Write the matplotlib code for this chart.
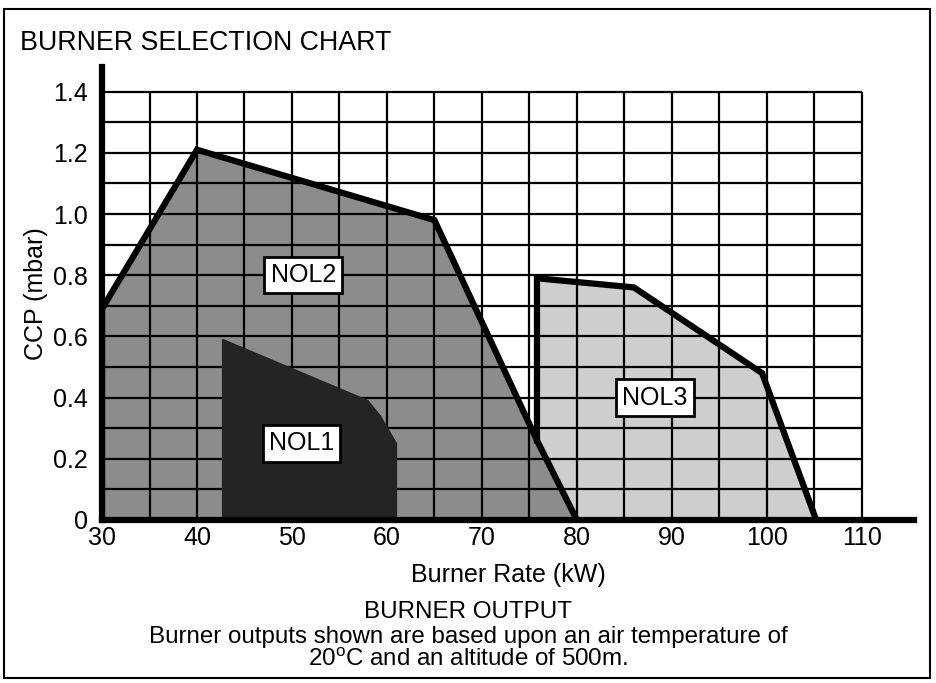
import matplotlib
matplotlib.use("Agg")
import matplotlib.pyplot as plt
from matplotlib.patches import Polygon, Rectangle

plt.rcParams['font.family'] = ['Liberation Sans', 'DejaVu Sans']
plt.rcParams['mathtext.fontset'] = 'custom'
plt.rcParams['mathtext.rm'] = 'Liberation Sans'

# Data (Burner Rate kW, CCP mbar)
nol2_x = [30, 30, 40, 65, 75.8, 80]
nol2_y = [0, 0.69, 1.21, 0.98, 0.26, 0]
nol1_x = [42.7, 42.7, 58, 59.3, 61, 61]
nol1_y = [0, 0.59, 0.39, 0.34, 0.25, 0]
nol3_x = [80, 75.8, 75.8, 86, 99.5, 105.2]
nol3_y = [0, 0.26, 0.79, 0.76, 0.48, 0]
labels = ["NOL1", "NOL2", "NOL3"]
label_pos = [(51.0, 0.25), (51.2, 0.80), (88.2, 0.40)]
x_ticks = [30, 40, 50, 60, 70, 80, 90, 100, 110]
y_ticks = [0, 0.2, 0.4, 0.6, 0.8, 1.0, 1.2, 1.4]
y_ticklabels = ["0", "0.2", "0.4", "0.6", "0.8", "1.0", "1.2", "1.4"]
grid_x = list(range(30, 111, 5))
grid_y = [round(0.1 * i, 1) for i in range(1, 15)]

fig = plt.figure(figsize=(9.36, 6.83), dpi=100)
ax = fig.add_axes([0.109, 0.2387, 0.8675, 0.663])
ax.set_xlim(30, 115.5)
ax.set_ylim(0, 1.48)

# fills
ax.add_patch(Polygon(list(zip(nol2_x, nol2_y)), closed=True, facecolor='#8c8c8c', edgecolor='none', zorder=1))
ax.add_patch(Polygon(list(zip(nol3_x, nol3_y)), closed=True, facecolor='#cecece', edgecolor='none', zorder=1))

# grid
ax.vlines(grid_x, 0, 1.4, colors='black', linewidth=1.6, zorder=2)
ax.hlines(grid_y, 30, 110, colors='black', linewidth=1.6, zorder=2)

# NOL1 dark region on top of grid
ax.add_patch(Polygon(list(zip(nol1_x, nol1_y)), closed=True, facecolor='#242424', edgecolor='#242424', linewidth=1, zorder=3))

# outlines
ax.plot(nol2_x, nol2_y, color='black', linewidth=4.5, solid_joinstyle='miter', zorder=4)
ax.plot(nol3_x[1:], nol3_y[1:], color='black', linewidth=4.5, solid_joinstyle='miter', zorder=4)

for lab, (lx, ly) in zip(labels, label_pos):
    ax.text(lx, ly, lab, fontsize=18, ha='center', va='center', zorder=6,
            bbox=dict(boxstyle='square,pad=0.25', facecolor='white', edgecolor='black', linewidth=2))

for s in ['top', 'right']:
    ax.spines[s].set_visible(False)
ax.spines['left'].set_linewidth(4.5)
ax.spines['bottom'].set_linewidth(4.5)
ax.spines['left'].set_zorder(5)
ax.spines['bottom'].set_zorder(5)

ax.set_xticks(x_ticks)
ax.set_xticklabels([str(v) for v in x_ticks])
ax.set_yticks(y_ticks)
ax.set_yticklabels(y_ticklabels)
ax.tick_params(axis='x', length=0, labelsize=18, pad=4)
ax.tick_params(axis='y', length=0, labelsize=18, pad=10)
ax.set_xlabel("Burner Rate (kW)", fontsize=18, labelpad=10)
ax.set_ylabel("CCP (mbar)", fontsize=18, labelpad=4)

fig.text(0.021, 0.937, "BURNER SELECTION CHART", fontsize=19.3, ha='left', va='center')
fig.text(0.5, 0.104, "BURNER OUTPUT", fontsize=17.4, ha='center', va='center')
fig.text(0.5, 0.068, "Burner outputs shown are based upon an air temperature of", fontsize=17.4, ha='center', va='center')
fig.text(0.5, 0.034, r"20$^{\mathrm{o}}$C and an altitude of 500m.", fontsize=17.4, ha='center', va='center')

fig.add_artist(Rectangle((0.004, 0.007), 0.99, 0.98, transform=fig.transFigure,
                         fill=False, edgecolor='black', linewidth=1.5))

fig.savefig("out.png", dpi=100)
